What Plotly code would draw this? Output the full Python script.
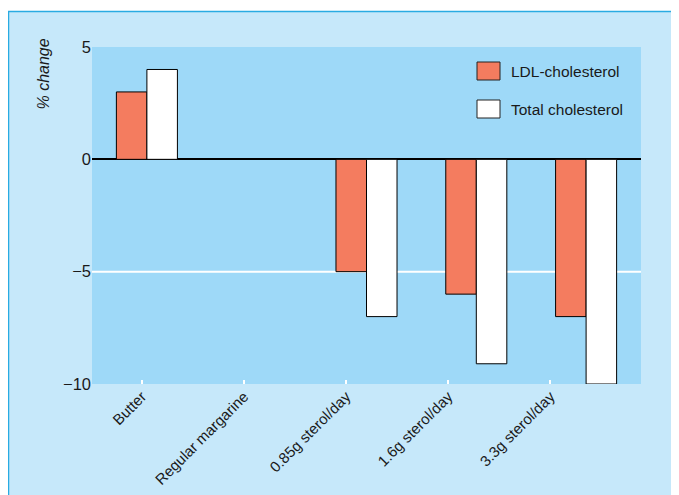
import numpy as np
import plotly.graph_objects as go

categories = ["Butter", "Regular margarine", "0.85g sterol/day", "1.6g sterol/day", "3.3g sterol/day"]
ldl_change = [3.0, 0, -5.0, -6.0, -7.0]
total_change = [4.0, 0, -7.0, -9.1, -10.0]
y_tick_vals = [5, 0, -5, -10]
y_tick_text = ["5", "0", "\u22125", "\u221210"]
series_names = ["LDL-cholesterol", "Total cholesterol"]
series_colors = ["#f47c5f", "white"]

FONT = "Liberation Sans Narrow, Arial Narrow, Liberation Sans, Arial, sans-serif"
OFF = 8  # page body margin
W, H = 679 - OFF, 495 - OFF
L, R, T, B = 84, 38, 39, 111
pw, ph = W - L - R, H - T - B

fig = go.Figure()
for name, vals, col in zip(series_names, [ldl_change, total_change], series_colors):
    fig.add_trace(go.Bar(
        x=categories, y=vals, name=name, showlegend=False,
        marker=dict(color=col, line=dict(color="black", width=1)),
    ))


def px_x(v):
    return (v - OFF - L) / pw


def px_y(v):
    return (H - B - (v - OFF)) / ph


tick_pos = list(np.arange(len(categories)) * 0.93 - 0.045)

shapes = [
    dict(type="line", xref="paper", yref="y", x0=0, x1=1, y0=-5, y1=-5,
         line=dict(color="white", width=2), layer="below"),
    dict(type="rect", xref="paper", yref="paper", x0=px_x(0), x1=px_x(690), y0=px_y(11), y1=px_y(0),
         fillcolor="white", line=dict(width=0), layer="above"),
    dict(type="rect", xref="paper", yref="paper", x0=px_x(677.5), x1=px_x(690), y0=px_y(0), y1=px_y(500),
         fillcolor="white", line=dict(width=0), layer="above"),
    dict(type="rect", xref="paper", yref="paper", x0=px_x(8.5), x1=px_x(677), y0=px_y(11.5), y1=px_y(505),
         fillcolor="rgba(0,0,0,0)", line=dict(color="#29abe2", width=1.5), layer="above"),
]
annotations = [dict(
    text="<i>% change</i>", xref="paper", yref="paper", x=px_x(43), y=px_y(37),
    xanchor="center", yanchor="top", textangle=-90, showarrow=False,
    font=dict(size=16, family=FONT, color="#1a1a1a"),
)]

# manual legend
for i, (name, col) in enumerate(zip(series_names, series_colors)):
    top = 62 + 38 * i
    shapes.append(dict(type="rect", xref="paper", yref="paper",
                       x0=px_x(477), x1=px_x(500), y0=px_y(top + 18), y1=px_y(top),
                       fillcolor=col, line=dict(color="#222", width=1), layer="above"))
    annotations.append(dict(text=name, xref="paper", yref="paper", x=px_x(509), y=px_y(top + 9),
                            xanchor="left", yanchor="middle", showarrow=False,
                            font=dict(size=15.5, family=FONT, color="#1a1a1a")))

fig.update_layout(
    width=W, height=H,
    margin=dict(l=L, r=R, t=T, b=B, autoexpand=False),
    paper_bgcolor="#c6e8fa",
    plot_bgcolor="#9ed9f8",
    barmode="group",
    bargap=0.444,
    bargroupgap=0,
    font=dict(family=FONT, size=15, color="#1a1a1a"),
    showlegend=False,
    xaxis=dict(type="category", showticklabels=False, ticks="", showgrid=False, automargin=False,
               zeroline=False, showline=False, range=[-0.5, 4.5]),
    xaxis2=dict(overlaying="x", anchor="y", side="bottom", range=[-0.5, 4.5], automargin=False,
                tickmode="array", tickvals=tick_pos, ticktext=categories,
                ticks="inside", ticklen=4, tickwidth=2, tickcolor="white",
                tickangle=-45, tickfont=dict(size=15, family=FONT),
                showgrid=False, zeroline=False, showline=False),
    yaxis=dict(range=[-10, 5], tickmode="array", tickvals=y_tick_vals, ticktext=y_tick_text,
               automargin=False,
               showgrid=False, zeroline=True, zerolinecolor="black", zerolinewidth=1.5,
               ticks="", tickfont=dict(size=16.5, family=FONT), showline=False),
    shapes=shapes,
    annotations=annotations,
)
fig.add_trace(go.Scatter(x=[], y=[], xaxis="x2", yaxis="y", showlegend=False, hoverinfo="skip"))

fig.write_html("out.html")
